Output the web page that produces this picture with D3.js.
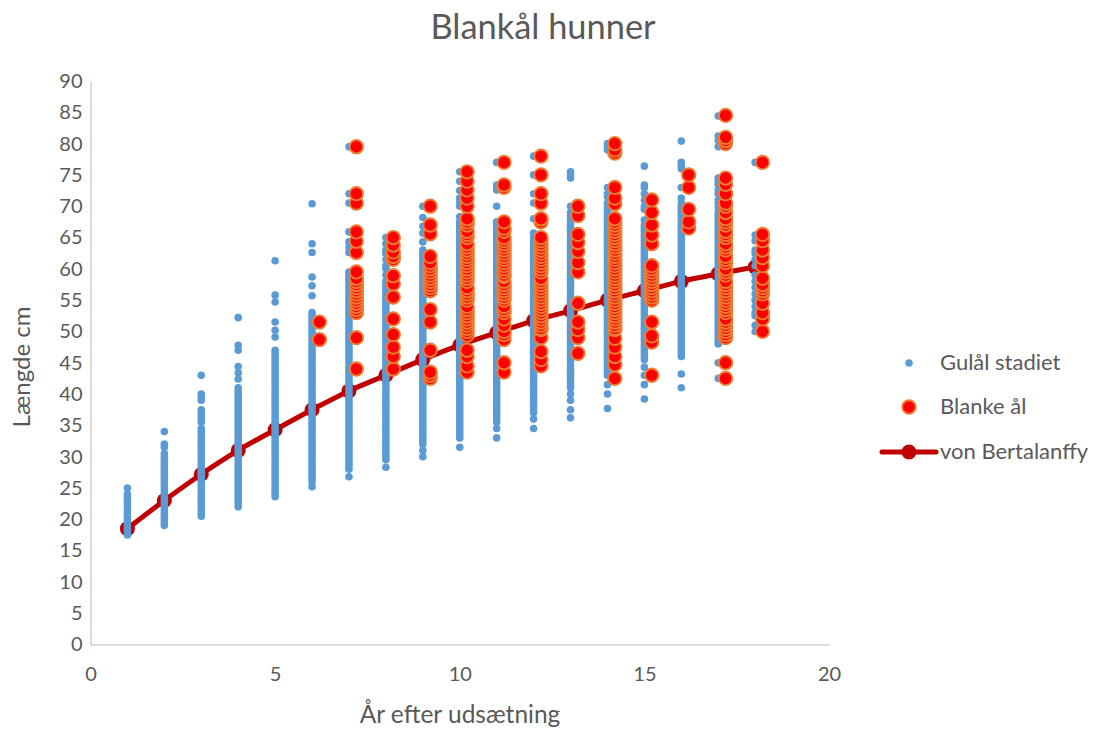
<!DOCTYPE html>
<html lang="da">
<head>
<meta charset="utf-8">
<title>Blankål hunner</title>
<script src="https://d3js.org/d3.v7.min.js"></script>
<style>
body { margin: 0; background: #fff; }
text { font-family: Lato, "Open Sans", sans-serif; fill: #595959; }
</style>
</head>
<body>
<script>
// Længder (cm) pr. år efter udsætning
var gul1 = [17.5,18,18.5,19,19.5,20,20.5,21,21.5,22,22.5,23,23.5,24,25];
var gul2 = [19,19.5,20,20.5,21,21.5,22,22.5,23,23.5,24,24.5,25,25.5,26,26.5,27,27.5,28,28.5,29,29.5,30,30.5,31.5,32,34];
var gul3 = [20.5,21,21.5,22,22.5,23,23.5,24,24.5,25,25.5,26,26.5,27,27.5,28,28.5,29,29.5,30,30.5,31,31.5,32,32.5,33,33.5,34,34.5,35.5,36,36.5,37,37.5,39,39.5,40,43];
var gul4 = [22,22.5,23,23.5,24,24.5,25,25.5,26,26.5,27,27.5,28,28.5,29,29.5,30,30.5,31,31.5,32,32.5,33,33.5,34,34.5,35,35.5,36,36.5,37,37.5,38,38.5,39,39.5,40,40.5,41,42.4,43.4,44.4,47,47.8,52.2];
var gul5 = [23.6,24,24.5,25,25.5,26,26.5,27,27.5,28,28.5,29,29.5,30,30.5,31,31.5,32,32.5,33,33.5,34,34.5,35,35.5,36,36.5,37,37.5,38,38.5,39,39.5,40,40.5,41,41.5,42,42.5,43,43.5,44,44.5,45,45.5,46,46.5,47,49.1,50.2,51.5,54.7,55.8,61.3];
var gul6 = [25.2,26,26.5,27,27.5,28,28.5,29,29.5,30,30.5,31,31.5,32,32.5,33,33.5,34,34.5,35,35.5,36,36.5,37,37.5,38,38.5,39,39.5,40,40.5,41,41.5,42,42.5,43,43.5,44,44.5,45,45.5,46,46.5,47,47.5,48,48.5,49,49.5,50,50.5,51,51.5,52,52.5,53,55.7,57.3,58.7,62.6,64,70.4];
var gul7 = [26.8,28,28.5,29,29.5,30,30.5,31,31.5,32,32.5,33,33.5,34,34.5,35,35.5,36,36.5,37,37.5,38,38.5,39,39.5,40,40.5,41,41.5,42,42.5,43,43.5,44,44.5,45,45.5,46,46.5,47,47.5,48,48.5,49,49.5,50,50.5,51,51.5,52,52.5,53,53.5,54,54.5,55,55.5,56,56.5,57,57.5,58,58.5,59,59.5,62.6,63.5,64.3,65.9,70.5,72,79.5];
var gul8 = [28.3,29.5,30,30.5,31,31.5,32,32.5,33,33.5,34,34.5,35,35.5,36,36.5,37,37.5,38,38.5,39,39.5,40,40.5,41,41.5,42,42.5,43,43.5,44,44.5,45,45.5,46,46.5,47,47.5,48,48.5,49,49.5,50,50.5,51,51.5,52,52.5,53,53.5,54,54.5,55,55.5,56,56.5,57,57.5,58,59,60,60.5,61.5,62.5,63,64,65];
var gul9 = [30,31,32,32.5,33,33.5,34,34.5,35,35.5,36,36.5,37,37.5,38,38.5,39,39.5,40,40.5,41,41.5,42,42.5,43,43.5,44,44.5,45,45.5,46,46.5,47,47.5,48,48.5,49,49.5,50,50.5,51,51.5,52,52.5,53,53.5,54,54.5,55,55.5,56,56.5,57,57.5,58,58.5,59,59.5,60,60.5,61,61.5,62,62.5,63,64.3,65.7,66.8,68.2,70];
var gul10 = [31.5,33,33.5,34,34.5,35,35.5,36,36.5,37,37.5,38,38.5,39,39.5,40,40.5,41,41.5,42,42.5,43,43.5,44,44.5,45,45.5,46,46.5,47,47.5,48,48.5,49,49.5,50,50.5,51,51.5,52,52.5,53,53.5,54,54.5,55,55.5,56,56.5,57,57.5,58,58.5,59,59.5,60,60.5,61,61.5,62,62.5,63,63.5,64,64.5,65,65.5,66,66.5,67,67.5,68.3,70,70.7,71.3,72.5,74,75.5];
var gul11 = [33,34.5,35.5,36,36.5,37,37.5,38,38.5,39,39.5,40,40.5,41,41.5,42,42.5,43,43.5,44,44.5,45,45.5,46,46.5,47,47.5,48,48.5,49,49.5,50,50.5,51,51.5,52,52.5,53,53.5,54,54.5,55,55.5,56,56.5,57,57.5,58,58.5,59,59.5,60,60.5,61,61.5,62,62.5,63,63.5,64,64.5,65,65.5,66,66.5,67,67.5,70,72.6,73,73.4,77];
var gul12 = [34.5,36,37,37.5,38,38.5,39,39.5,40,40.5,41,41.5,42,42.5,43,43.5,44,44.5,45,45.5,46,46.5,47,47.5,48,48.5,49,49.5,50,50.5,51,51.5,52,52.5,53,53.5,54,54.5,55,55.5,56,56.5,57,57.5,58,58.5,59,59.5,60,60.5,61,61.5,62,62.5,63,63.5,64,64.5,65,65.7,68,70.5,72,75,78];
var gul13 = [36.2,37.5,39,40,41,41.5,42,42.5,43,43.5,44,44.5,45,45.5,46,46.5,47,47.5,48,48.5,49,49.5,50,50.5,51,51.5,52,52.5,53,53.5,54,54.5,55,55.5,56,56.5,57,57.5,58,58.5,59,59.5,60,60.5,61,61.5,62,62.5,63,63.5,64,64.5,65,65.5,66,66.5,67,67.5,68,68.5,69,70,74.5,75,75.5];
var gul14 = [37.7,40,41.5,43,43.5,44,44.5,45,45.5,46,46.5,47,47.5,48,48.5,49,49.5,50,50.5,51,51.5,52,52.5,53,53.5,54,54.5,55,55.5,56,56.5,57,57.5,58,58.5,59,59.5,60,60.5,61,61.5,62,62.5,63,63.5,64,64.5,65,65.5,66,66.5,67,67.5,68,68.5,69,69.5,70,70.5,71.5,72,73,79,79.5,80];
var gul15 = [39.2,41.5,43,44.3,45.5,46,46.5,47,47.5,48,48.5,49,49.5,50,50.5,51,51.5,52,52.5,53,53.5,54,54.5,55,55.5,56,56.5,57,57.5,58,58.5,59,59.5,60,60.5,61,61.5,62,62.5,63,63.5,64,64.5,65,65.5,66,66.5,67,67.8,69.5,70,71,72,73,73.4,76.4];
var gul16 = [41,43.2,46,46.5,47,47.5,48,48.5,49,49.5,50,50.5,51,51.5,52,52.5,53,53.5,54,54.5,55,55.5,56,56.5,57,57.5,58,58.5,59,59.5,60,60.5,61,61.5,62,62.5,63,63.5,64,64.5,65,65.5,66,66.5,67,67.5,68,68.5,69,69.5,70,70.5,71.3,73,76,76.5,77,80.4];
var gul17 = [42.5,45,48,48.5,49,49.5,50,50.5,51,51.5,52,52.5,53,53.5,54,54.5,55,55.5,56,56.5,57,57.5,58,58.5,59,59.5,60,60.5,61,61.5,62,62.5,63,63.5,64,64.5,65,65.5,66,66.5,67,67.5,68,68.5,69,69.8,70.5,71,72,72.6,73.5,74,74.5,79.5,80.5,81.2,84.4];
var gul18 = [50,51,52.5,53,54,55,56,57,58,59,60.5,61.5,62.5,63,64.5,65.4,77];

var blank6 = [48.7,51.5];
var blank7 = [44,49,53,53.5,54,54.5,55,55.5,56,56.5,57,57.5,58,58.5,59.5,62.6,64.4,65.9,70.5,72,79.5];
var blank8 = [44,46,47.5,49.5,52,55.5,57.6,58.9,61.5,62,62.7,63.8,65];
var blank9 = [42.5,43,43.5,47,51.5,53.5,56.5,57,57.5,58,58.5,59,59.5,60,60.5,61,62,65.6,67,70];
var blank10 = [43.5,44.5,46,47,49.4,50,50.5,51,51.5,52,52.5,53,53.5,54,55,55.5,56,56.5,57,58,58.5,59,59.5,60,60.5,61,61.5,62,62.5,63,63.5,64,65,65.5,66,67,67.5,68,70,71.3,72.6,74,75.5];
var blank11 = [43.5,45,48.7,49.5,50,51,52,53,53.5,54,55,55.5,56,56.5,57,57.5,58,58.8,59,59.5,60,60.5,61,61.5,62,62.5,63,63.5,64,64.5,65,66,66.5,67.5,73,73.4,77];
var blank12 = [44.5,45.5,46.8,49,50.3,50.5,51,51.5,52,52.5,53,53.5,54,54.5,55,55.5,56,56.5,57,57.5,58,58.5,59.5,60,60.5,61,61.5,62,62.5,63,63.5,64,64.5,65,67.5,68,70.5,72,75,78];
var blank13 = [46.5,49,50.3,51.5,54.5,59.5,61,62.8,64.2,65.5,68.5,70];
var blank14 = [42.5,44.7,46,47.5,48.9,50.3,50.5,51,51.5,52,52.5,53,53.5,54,54.5,55,55.5,56,56.5,57,57.5,58,58.5,59,59.5,60,60.5,61,61.5,62,62.5,63,63.5,64,64.5,65,65.5,66,66.5,67,67.5,68,70.4,71.3,73,78.5,79,80];
var blank15 = [43,48.3,49.3,51.5,55,55.5,56,56.5,57,57.5,58,58.5,59,59.5,60,60.5,64,65.4,67,69,71];
var blank16 = [66.5,67.5,69.5,73,75];
var blank17 = [42.5,45,49,49.5,50,50.5,51,51.5,52,53,53.5,54,54.5,55,55.5,56,56.5,57,57.5,58,59,59.5,60,61,61.5,62,63,63.5,64,65,65.5,66,67,67.5,68,69,70,70.5,72,73.5,74.5,80,80.5,81,84.5];
var blank18 = [50,52,53,54.5,56,56.5,57,57.5,58.5,60.5,61.8,63,64.5,65.5,77];

var gulYears = [1,2,3,4,5,6,7,8,9,10,11,12,13,14,15,16,17,18];
var gulLengths = [gul1,gul2,gul3,gul4,gul5,gul6,gul7,gul8,gul9,gul10,gul11,gul12,gul13,gul14,gul15,gul16,gul17,gul18];
var blankYears = [6.2,7.2,8.2,9.2,10.2,11.2,12.2,13.2,14.2,15.2,16.2,17.2,18.2];
var blankLengths = [blank6,blank7,blank8,blank9,blank10,blank11,blank12,blank13,blank14,blank15,blank16,blank17,blank18];
var vbYears = [1,2,3,4,5,6,7,8,9,10,11,12,13,14,15,16,17,18];
var vbLengths = [18.5,23,27.2,31,34.3,37.5,40.5,43,45.5,47.8,49.8,51.7,53.3,55,56.5,58,59.2,60.3];

var xTicks = [0,5,10,15,20];
var yTicks = [0,5,10,15,20,25,30,35,40,45,50,55,60,65,70,75,80,85,90];
var legendLabels = ["Gulål stadiet","Blanke ål","von Bertalanffy"];

var w = 1094, h = 731;
var blue = "#5b9bd5", orange = "#ed7d31", red = "#ff0000", dark = "#c00000";

var x = d3.scaleLinear().domain([0,20]).range([90.5,829]);
var y = d3.scaleLinear().domain([0,90]).range([644.5,81]);

var svg = d3.select("body").append("svg").attr("width",w).attr("height",h).style("display","block");

// Axes
var gx = svg.append("g").attr("transform","translate(0,644.5)")
	.call(d3.axisBottom(x).tickValues(xTicks).tickSize(0).tickPadding(22));
var gy = svg.append("g").attr("transform","translate(90.5,0)")
	.call(d3.axisLeft(y).tickValues(yTicks).tickSize(0).tickPadding(8));
svg.selectAll(".domain").attr("stroke","#d0d0d0").attr("stroke-width",1.5);
svg.selectAll(".tick text").style("font-family","Lato, sans-serif").style("font-size","20px").attr("fill","#595959");

// von Bertalanffy lies under the dots
var vb = vbYears.map(function(d,i){ return [d,vbLengths[i]]; });
var line = d3.line().x(function(d){return x(d[0]);}).y(function(d){return y(d[1]);}).curve(d3.curveCatmullRom);
svg.append("path").attr("d",line(vb)).attr("fill","none").attr("stroke",dark).attr("stroke-width",5);
svg.append("g").selectAll("circle").data(vb).enter().append("circle")
	.attr("cx",function(d){return x(d[0]);}).attr("cy",function(d){return y(d[1]);})
	.attr("r",7.5).attr("fill",dark);

// Gulål
gulYears.forEach(function(yr,i){
	svg.append("g").selectAll("circle").data(gulLengths[i]).enter().append("circle")
		.attr("cx",x(yr)).attr("cy",function(d){return y(d);}).attr("r",3.8).attr("fill",blue);
});

// Blanke ål, smallest first so the upper ones land on top
blankYears.forEach(function(yr,i){
	svg.append("g").selectAll("circle").data(blankLengths[i]).enter().append("circle")
		.attr("cx",x(yr)).attr("cy",function(d){return y(d);}).attr("r",6.7)
		.attr("fill",red).attr("stroke",orange).attr("stroke-width",1.9);
});

// Titles
svg.append("text").attr("x",543).attr("y",39).attr("text-anchor","middle").style("font-size","34.4px").text("Blankål hunner");
svg.append("text").attr("x",460).attr("y",723).attr("text-anchor","middle").style("font-size","24.5px").text("År efter udsætning");
svg.append("text").attr("transform","translate(30,367) rotate(-90)").attr("text-anchor","middle").style("font-size","24px").text("Længde cm");

// Legend
var legendY = [363,407,452];
svg.append("circle").attr("cx",909).attr("cy",legendY[0]).attr("r",3.8).attr("fill",blue);
svg.append("circle").attr("cx",909).attr("cy",legendY[1]).attr("r",6.7).attr("fill",red).attr("stroke",orange).attr("stroke-width",1.9);
svg.append("line").attr("x1",882).attr("x2",936).attr("y1",legendY[2]).attr("y2",legendY[2]).attr("stroke",dark).attr("stroke-width",5).attr("stroke-linecap","round");
svg.append("circle").attr("cx",909).attr("cy",legendY[2]).attr("r",7.5).attr("fill",dark);
svg.append("g").selectAll("text").data(legendLabels).enter().append("text")
	.attr("x",940).attr("y",function(d,i){return legendY[i]+7;}).style("font-size","22px").text(function(d){return d;});
</script>
</body>
</html>
